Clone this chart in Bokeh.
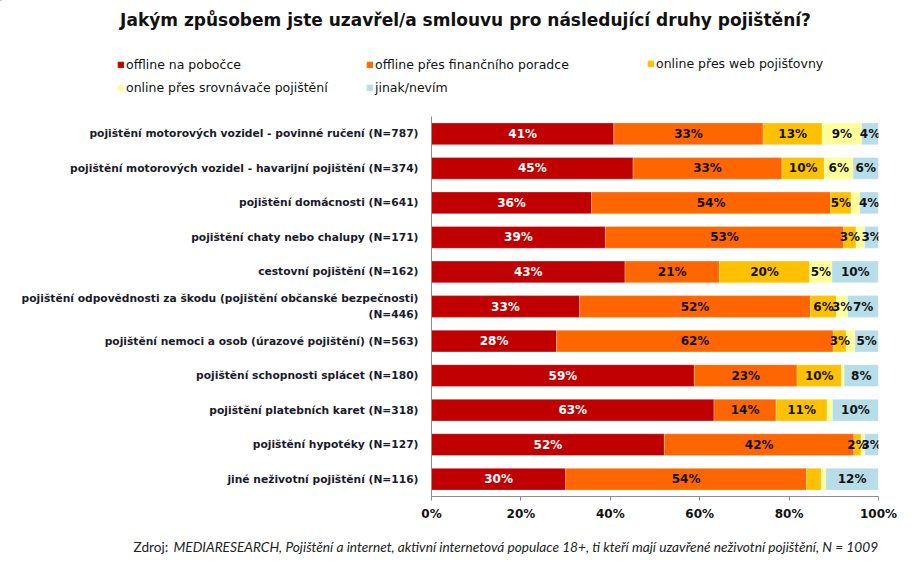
from bokeh.plotting import figure
from bokeh.layouts import column
from bokeh.models import (ColumnDataSource, FactorRange, Range1d, FixedTicker, Legend,
                          LegendItem, Label)
from bokeh.embed import file_html
from bokeh.resources import INLINE

title_text = "Jakým způsobem jste uzavřel/a smlouvu pro následující druhy pojištění?"
source_text_a = "Zdroj:"
source_text_b = ("MEDIARESEARCH, Pojištění a internet, aktivní internetová populace 18+, "
                 "ti kteří mají uzavřené neživotní pojištění, N = 1009")

categories = [
    "pojištění motorových vozidel - povinné ručení (N=787)",
    "pojištění motorových vozidel - havarijní pojištění (N=374)",
    "pojištění domácnosti (N=641)",
    "pojištění chaty nebo chalupy (N=171)",
    "cestovní pojištění (N=162)",
    "pojištění odpovědnosti za škodu (pojištění občanské bezpečnosti)\n(N=446)",
    "pojištění nemoci a osob (úrazové pojištění) (N=563)",
    "pojištění schopnosti splácet (N=180)",
    "pojištění platebních karet (N=318)",
    "pojištění hypotéky (N=127)",
    "jiné neživotní pojištění (N=116)",
]

series_names = ["offline na pobočce", "offline přes finančního poradce",
                "online přes web pojišťovny", "online přes srovnávače pojištění",
                "jinak/nevím"]

offline_pobocka = [40.8, 45.1, 35.8, 38.9, 43.3, 33.1, 28.0, 58.8, 63.2, 52.1, 30.0]
offline_poradce = [33.4, 33.3, 53.5, 53.3, 21.1, 51.7, 61.9, 23.0, 13.9, 42.4, 53.9]
online_web = [13.2, 9.5, 4.6, 2.8, 20.2, 5.8, 2.9, 9.9, 11.4, 1.6, 3.3]
online_srovnavac = [8.8, 6.4, 1.9, 1.9, 5.0, 2.5, 1.9, 0.6, 1.2, 0.8, 1.0]
jinak = [3.8, 5.7, 4.2, 3.1, 10.4, 6.9, 5.3, 7.7, 10.3, 3.1, 11.8]

# which data labels are shown in the original
show_pobocka = [1] * 11
show_poradce = [1] * 11
show_web = [1, 1, 1, 1, 1, 1, 1, 1, 1, 1, 0]
show_srovnavac = [1, 1, 0, 0, 1, 1, 0, 0, 0, 0, 0]
show_jinak = [1] * 11

x_ticks = [0, 20, 40, 60, 80, 100]
x_tick_labels = ["0%", "20%", "40%", "60%", "80%", "100%"]

colors = ["#C00000", "#FF6600", "#FFC000", "#FFFF99", "#B7DEE8"]
label_colors = ["white", "#111111", "#111111", "#111111", "#111111"]

series = [offline_pobocka, offline_poradce, online_web, online_srovnavac, jinak]
shows = [show_pobocka, show_poradce, show_web, show_srovnavac, show_jinak]
keys = ["s0", "s1", "s2", "s3", "s4"]

FONT = "DejaVu Sans"
W = 920
HEAD_H, MAIN_H, FOOT_H = 100, 430, 43

# normalise to 100 % stacked
totals = [sum(s[i] for s in series) for i in range(len(categories))]
data = {"cat": categories}
for k, s in zip(keys, series):
    data[k] = [v / t * 100 for v, t in zip(s, totals)]
src = ColumnDataSource(data)

# ---------------- header: title + legend ----------------
head = figure(width=W, height=HEAD_H, output_backend="svg", toolbar_location=None,
              x_range=Range1d(0, W), y_range=Range1d(HEAD_H, 0),
              x_axis_location=None, y_axis_location=None, min_border=0,
              min_border_left=0, min_border_right=0, min_border_top=0,
              min_border_bottom=0, frame_align=False, outline_line_color=None)
head.grid.visible = False
head.add_layout(Label(x=465, y=19, text=title_text, text_align="center",
                      text_baseline="middle", text_font=FONT, text_font_style="bold",
                      text_font_size="17px", text_color="#111111"))

# legend proxies, kept outside the visible area of the header
dummy = [head.hbar(y=[-500], left=[0], right=[1], height=1, color=c) for c in colors]


def make_legend(idx, loc):
    items = [LegendItem(label=series_names[i], renderers=[dummy[i]]) for i in idx]
    lg = Legend(items=items, location=loc, orientation="vertical",
                glyph_width=7, glyph_height=7, label_standoff=2, padding=0, margin=0,
                spacing=8, label_height=14, border_line_color=None,
                background_fill_alpha=0, label_text_font=FONT,
                label_text_font_size="12.5px", label_text_color="#111111",
                click_policy="none")
    head.add_layout(lg, "center")


make_legend([0, 3], (117, HEAD_H - 94.5))
make_legend([1, 4], (366, HEAD_H - 94.5))
make_legend([2], (647, HEAD_H - 71))

# ---------------- main bar chart ----------------
p = figure(width=W, height=MAIN_H, output_backend="svg", toolbar_location=None,
           y_range=FactorRange(factors=list(reversed(categories)), range_padding=0),
           x_range=Range1d(0, 100),
           min_border_left=431, min_border_right=42, min_border_top=16,
           min_border_bottom=34, frame_align=False, outline_line_color=None)

p.hbar_stack(keys, y="cat", height=0.63, color=colors, source=src,
             line_color="white", line_width=0.6, line_alpha=0.5)

lab_x, lab_y, lab_t, lab_c = [], [], [], []
for i, cat in enumerate(categories):
    left = 0.0
    for j, k in enumerate(keys):
        v = data[k][i]
        if shows[j][i]:
            lab_x.append(left + v / 2)
            lab_y.append(cat)
            lab_t.append(f"{int(series[j][i] + 0.5)}%")
            lab_c.append(label_colors[j])
        left += v
lsrc = ColumnDataSource(dict(x=lab_x, y=lab_y, t=lab_t, c=lab_c))
p.text(x="x", y="y", text="t", source=lsrc, text_color="c", text_align="center",
       text_baseline="middle", text_font_size="12px", text_font_style="bold",
       text_font={"value": FONT})

p.xgrid.visible = False
p.ygrid.visible = False
xa = p.xaxis[0]
xa.ticker = FixedTicker(ticks=x_ticks)
xa.major_label_overrides = dict(zip(x_ticks, x_tick_labels))
xa.axis_line_color = "#8c8c8c"
xa.major_tick_line_color = "#8c8c8c"
xa.major_tick_in = 0
xa.major_tick_out = 4
xa.minor_tick_line_color = None
xa.major_label_text_font = FONT
xa.major_label_text_font_style = "bold"
xa.major_label_text_font_size = "12px"
xa.major_label_text_color = "#111111"
xa.major_label_standoff = 6

ya = p.yaxis[0]
ya.axis_line_color = "#8c8c8c"
ya.major_tick_line_color = None
ya.minor_tick_line_color = None
ya.major_label_text_font = FONT
ya.major_label_text_font_style = "bold"
ya.major_label_text_font_size = "10.7px"
ya.major_label_text_color = "#1a1a2a"
ya.major_label_standoff = 7

# ---------------- footer: source note ----------------
foot = figure(width=W, height=FOOT_H, output_backend="svg", toolbar_location=None,
              x_range=Range1d(0, W), y_range=Range1d(FOOT_H, 0),
              x_axis_location=None, y_axis_location=None, min_border=0,
              min_border_left=0, min_border_right=0, min_border_top=0,
              min_border_bottom=0, frame_align=False, outline_line_color=None)
foot.grid.visible = False
foot.add_layout(Label(x=133, y=16, text=source_text_a, text_align="left",
                      text_baseline="middle", text_font="Lato", text_font_size="13.7px",
                      text_color="#222222"))
foot.add_layout(Label(x=173, y=16, text=source_text_b, text_align="left",
                      text_baseline="middle", text_font="Lato", text_font_style="italic",
                      text_font_size="13.7px", text_color="#222222"))

layout = column(head, p, foot, spacing=0)
open("out.html", "w").write(file_html(layout, INLINE))
